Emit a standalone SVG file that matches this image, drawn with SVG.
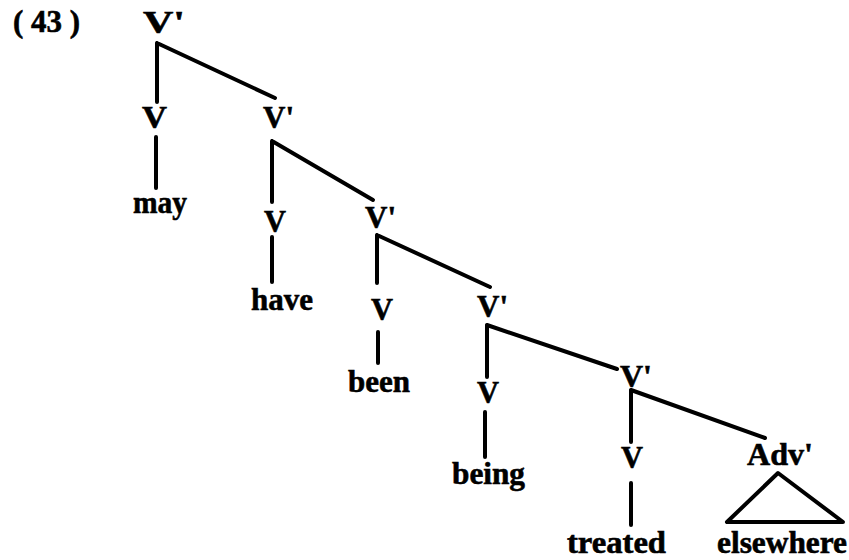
<svg xmlns="http://www.w3.org/2000/svg" width="849" height="560" viewBox="0 0 849 560">
<style>
text{font-family:"Liberation Serif","Times New Roman",serif;font-weight:bold;font-size:32px;fill:#000;stroke:#000;stroke-width:0.6}
.e{stroke:#000;stroke-width:4;stroke-linecap:round;stroke-linejoin:round;fill:none}
</style>
<rect width="849" height="560" fill="#fff"/>
<text x="13" y="32" font-size="27" textLength="67" lengthAdjust="spacingAndGlyphs">( 43 )</text>
<g id="connectors">
<path class="e" d="M157 43V102M157 43L275 98"/>
<path class="e" d="M156 137V188"/>
<path class="e" d="M272 141V202M272 141L373 200"/>
<path class="e" d="M272 237V282"/>
<path class="e" d="M377 235V283M377 235L490 287"/>
<path class="e" d="M378 332V363"/>
<path class="e" d="M487 325V377M487 325L617 369"/>
<path class="e" d="M485 412V457"/>
<path class="e" d="M631 390V442M631 390L765 438"/>
<path class="e" d="M631 483V525"/>
<path class="e" d="M778 473L727 522H843Z"/>
</g>
<g id="n_vbar1"><text x="143" y="33" textLength="42" lengthAdjust="spacingAndGlyphs">V'</text></g>
<g id="n_v1"><text x="142" y="128" textLength="25" lengthAdjust="spacingAndGlyphs">V</text></g>
<g id="n_may"><text x="133" y="213" textLength="54" lengthAdjust="spacingAndGlyphs">may</text></g>
<g id="n_vbar2"><text x="263" y="128" textLength="31" lengthAdjust="spacingAndGlyphs">V'</text></g>
<g id="n_v2"><text x="264" y="232" textLength="22" lengthAdjust="spacingAndGlyphs">V</text></g>
<g id="n_have"><text x="251" y="310" textLength="62" lengthAdjust="spacingAndGlyphs">have</text></g>
<g id="n_vbar3"><text x="365" y="228" textLength="31" lengthAdjust="spacingAndGlyphs">V'</text></g>
<g id="n_v3"><text x="371" y="320" textLength="22" lengthAdjust="spacingAndGlyphs">V</text></g>
<g id="n_been"><text x="348" y="392" textLength="62" lengthAdjust="spacingAndGlyphs">been</text></g>
<g id="n_vbar4"><text x="477" y="317" textLength="31" lengthAdjust="spacingAndGlyphs">V'</text></g>
<g id="n_v4"><text x="477" y="403" textLength="22" lengthAdjust="spacingAndGlyphs">V</text></g>
<g id="n_being"><text x="452" y="484" textLength="73" lengthAdjust="spacingAndGlyphs">being</text></g>
<g id="n_vbar5"><text x="620" y="387" textLength="32" lengthAdjust="spacingAndGlyphs">V'</text></g>
<g id="n_v5"><text x="621" y="468" textLength="22" lengthAdjust="spacingAndGlyphs">V</text></g>
<g id="n_treated"><text x="567" y="553" textLength="99" lengthAdjust="spacingAndGlyphs">treated</text></g>
<g id="n_adv"><text x="747" y="465" textLength="66" lengthAdjust="spacingAndGlyphs">Adv'</text></g>
<g id="n_elsewhere"><text x="717" y="553" textLength="130" lengthAdjust="spacingAndGlyphs">elsewhere</text></g>
</svg>
